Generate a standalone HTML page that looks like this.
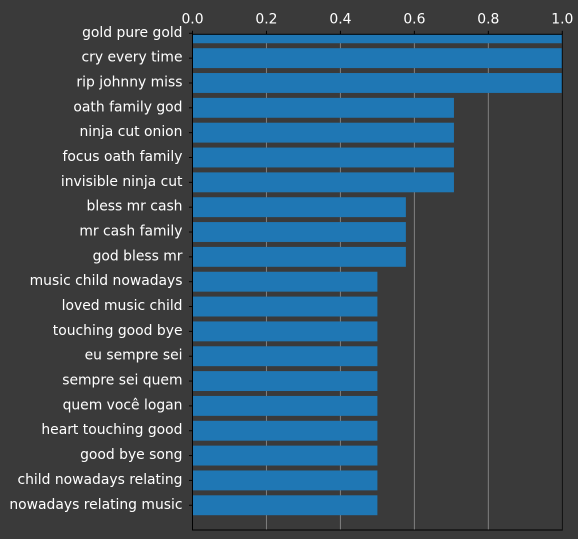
<!DOCTYPE html>
<html><head><meta charset="utf-8"><style>
html,body{margin:0;padding:0;background:#3a3a3a;}
svg{display:block;font-family:"DejaVu Sans","Liberation Sans",sans-serif;}
</style></head><body>
<svg id="chart" width="578" height="539" viewBox="0 0 578 539" xmlns="http://www.w3.org/2000/svg">
<rect width="578" height="539" fill="#3a3a3a"/>
<defs><clipPath id="plotclip"><rect x="192.5" y="34.3" width="369.8" height="495.7"/></clipPath></defs>
<g id="grid"></g>
<g id="bars" clip-path="url(#plotclip)"></g>
<g id="axes"></g>
</svg>
<script>
const categories = ["gold pure gold","cry every time","rip johnny miss","oath family god","ninja cut onion","focus oath family","invisible ninja cut","bless mr cash","mr cash family","god bless mr","music child nowadays","loved music child","touching good bye","eu sempre sei","sempre sei quem","quem você logan","heart touching good","good bye song","child nowadays relating","nowadays relating music"];
const values = [1.0,1.0,1.0,0.707,0.707,0.707,0.707,0.577,0.577,0.577,0.5,0.5,0.5,0.5,0.5,0.5,0.5,0.5,0.5,0.5];
const xTicks = [0,0.2,0.4,0.6,0.8,1.0];
const xTickLabels = ["0.0","0.2","0.4","0.6","0.8","1.0"];

const NS="http://www.w3.org/2000/svg";
const L=192.5,R=562.3,T=34.3,B=530;
const first=33.3,step=24.84,barH=19.9;
const x=v=>L+v*(R-L);
const y=i=>first+i*step;
function mk(tag,attrs,parent){const e=document.createElementNS(NS,tag);for(const k in attrs)e.setAttribute(k,attrs[k]);parent.appendChild(e);return e;}
const grid=document.getElementById('grid'),bars=document.getElementById('bars'),axes=document.getElementById('axes');
xTicks.forEach((t,i)=>{
  const g=mk('line',{x1:x(t),x2:x(t),y1:T,y2:B,stroke:'#808080','stroke-width':1},grid);
  
  
  const tk=mk('line',{x1:x(t),x2:x(t),y1:T,y2:T-3.5,stroke:'#000','stroke-width':1},axes);
  
  
  const tl=mk('text',{x:x(t),y:T-11,'text-anchor':'middle','font-size':13.9,fill:'#fff'},axes);
  tl.textContent=xTickLabels[i];
  
  
});
categories.forEach((c,i)=>{
  const b=mk('rect',{x:x(0),y:y(i)-barH/2,width:x(values[i])-x(0),height:barH,fill:'#1f77b4'},bars);
  
  
  const tk=mk('line',{x1:L,x2:L-3.5,y1:y(i),y2:y(i),stroke:'#000','stroke-width':1},axes);
  
  
  const tl=mk('text',{x:L-10,y:y(i)+3.5,'text-anchor':'end','font-size':13.9,fill:'#fff'},axes);
  tl.textContent=c;
  
  
});
const frame=mk('rect',{x:L,y:T,width:R-L,height:B-T,fill:'none',stroke:'#000','stroke-width':1},axes);


</script>
</body></html>
